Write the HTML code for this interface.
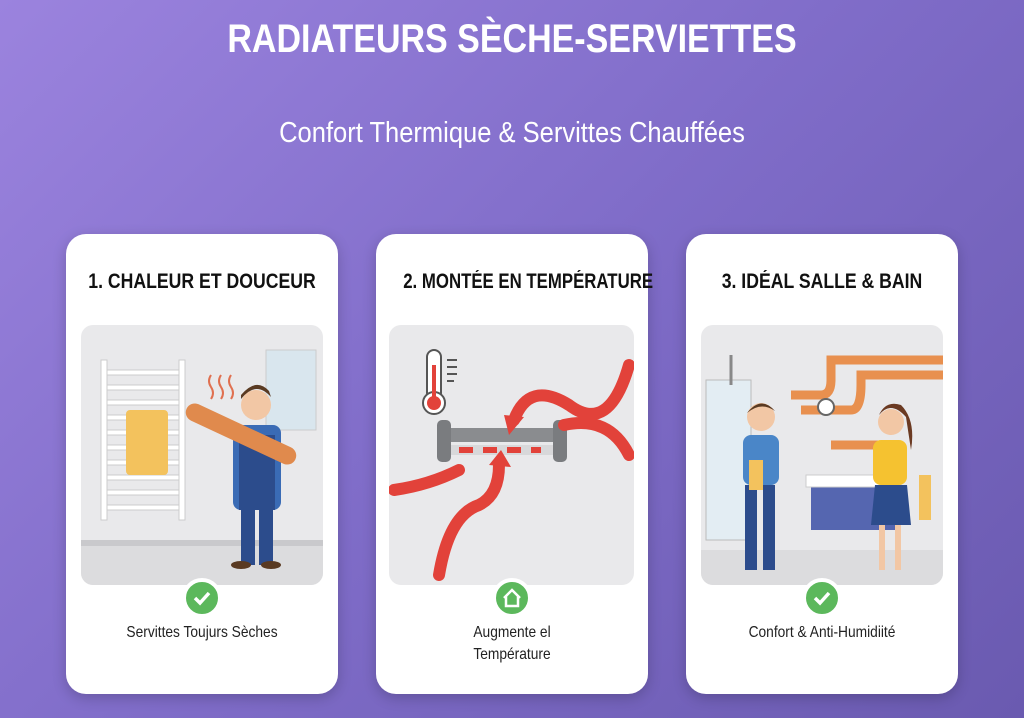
<!DOCTYPE html>
<html><head><meta charset="utf-8"><style>
body{margin:0;width:1024px;height:718px;overflow:hidden;background:linear-gradient(135deg,#9b83de 0%,#7f6cc8 50%,#6a5ab0 100%);font-family:"Liberation Sans",sans-serif;position:relative}
h1{position:absolute;top:17px;left:0;width:1024px;text-align:center;margin:0;color:#fff;font-size:40px;font-weight:bold;letter-spacing:0px;transform:scaleX(.85)}
.sub{position:absolute;top:117px;left:0;width:1024px;text-align:center;color:#fff;font-size:29px;transform:scaleX(.88)}
.card{position:absolute;top:234px;width:272px;height:460px;background:#fff;border-radius:20px;box-shadow:0 4px 14px rgba(0,0,0,.2)}
.card h2{position:absolute;top:36px;left:0;width:100%;text-align:center;margin:0;font-size:21px;font-weight:bold;color:#111;transform:scaleX(.84);white-space:nowrap}
.img{position:absolute;left:15px;top:91px;width:242px;height:260px;background:#e9e9eb;border-radius:12px;overflow:hidden}
.ic{position:absolute;left:120px;top:344px;width:32px;height:32px;border-radius:50%;background:#5cb85c;border:4px solid #fff;margin-left:-4px}
.t{position:absolute;top:388px;left:0;width:100%;text-align:center;font-size:16px;color:#222;transform:scaleX(.86);line-height:22px}
</style></head><body>
<h1>RADIATEURS SÈCHE-SERVIETTES</h1>
<div class="sub">Confort Thermique &amp; Servittes Chauffées</div>

<div class="card" style="left:66px"><h2>1. CHALEUR ET DOUCEUR</h2>
<div class="img"><svg width="242" height="260">
<rect x="0" y="220" width="242" height="40" fill="#dcdcde"/><rect x="0" y="215" width="242" height="6" fill="#c9c9cc"/>
<rect x="185" y="25" width="50" height="80" fill="#d9e6ee" stroke="#ccc"/>
<rect x="20" y="35" width="6" height="160" fill="#fff" stroke="#ccc"/><rect x="98" y="35" width="6" height="160" fill="#fff" stroke="#ccc"/>
<g fill="#fff" stroke="#ccc"><rect x="26" y="45" width="72" height="5"/><rect x="26" y="60" width="72" height="5"/><rect x="26" y="75" width="72" height="5"/><rect x="26" y="90" width="72" height="5"/><rect x="26" y="105" width="72" height="5"/><rect x="26" y="120" width="72" height="5"/><rect x="26" y="135" width="72" height="5"/><rect x="26" y="150" width="72" height="5"/><rect x="26" y="165" width="72" height="5"/><rect x="26" y="180" width="72" height="5"/></g>
<rect x="45" y="85" width="42" height="65" fill="#f3c25d" rx="4"/>
<rect x="160" y="180" width="14" height="60" fill="#2c4c8c"/><rect x="178" y="180" width="14" height="60" fill="#2c4c8c"/>
<rect x="152" y="100" width="48" height="85" fill="#3a6bb5" rx="8"/><rect x="158" y="110" width="36" height="75" fill="#2c4c8c"/>
<circle cx="175" cy="80" r="15" fill="#f2c7a5"/><path d="M160 74 Q175 55 190 72 L188 66 Q175 52 160 70Z" fill="#5a3a22"/>
<rect x="100" y="100" width="120" height="18" rx="9" fill="#e08a4d" transform="rotate(25 160 109)"/>
<path d="M130 50 q-4 6 0 12 q4 6 0 12 M140 50 q-4 6 0 12 q4 6 0 12 M150 50 q-4 6 0 12 q4 6 0 12" stroke="#e07050" fill="none" stroke-width="2"/>
<ellipse cx="160" cy="240" rx="10" ry="4" fill="#5a3a22"/><ellipse cx="190" cy="240" rx="10" ry="4" fill="#5a3a22"/>
</svg></div>
<div class="ic"><svg width="32" height="32"><path d="M9 16 l5 5 l9 -10" stroke="#fff" stroke-width="3.5" fill="none"/></svg></div>
<div class="t">Servittes Toujurs Sèches</div></div>

<div class="card" style="left:376px"><h2 style="transform:scaleX(.8)">2. MONTÉE EN TEMPÉRATURE</h2>
<div class="img" style="left:13px;width:245px"><svg width="245" height="260">
<rect x="38" y="25" width="14" height="50" rx="7" fill="#fff" stroke="#555" stroke-width="2"/><circle cx="45" cy="78" r="11" fill="#fff" stroke="#555" stroke-width="2"/><circle cx="45" cy="78" r="7" fill="#e2423a"/><rect x="43" y="40" width="4" height="38" fill="#e2423a"/>
<g stroke="#555" stroke-width="2"><line x1="58" y1="35" x2="68" y2="35"/><line x1="58" y1="42" x2="68" y2="42"/><line x1="58" y1="49" x2="68" y2="49"/><line x1="58" y1="56" x2="65" y2="56"/></g>
<rect x="58" y="103" width="110" height="14" fill="#8a8c8f"/><rect x="60" y="120" width="106" height="10" fill="#d8d8da"/>
<g fill="#e2423a"><rect x="70" y="122" width="14" height="6"/><rect x="94" y="122" width="14" height="6"/><rect x="118" y="122" width="14" height="6"/><rect x="142" y="122" width="10" height="6"/></g>
<rect x="48" y="95" width="14" height="42" rx="5" fill="#7a7c7f"/><rect x="164" y="95" width="14" height="42" rx="5" fill="#7a7c7f"/>
<g fill="none" stroke="#e2423a" stroke-width="12" stroke-linecap="round"><path d="M240 40 Q220 110 180 80 Q140 55 125 95"/><path d="M175 100 Q220 90 240 130"/><path d="M5 165 Q40 160 70 145"/><path d="M50 250 Q60 190 90 180 Q110 170 110 140"/></g>
<polygon points="115,90 135,92 120,110" fill="#e2423a"/><polygon points="100,140 112,125 122,142" fill="#e2423a"/>
</svg></div>
<div class="ic"><svg width="32" height="32"><path d="M8 16 L16 8 L24 16 M10 14 V24 H22 V14" stroke="#fff" stroke-width="2.5" fill="none"/></svg></div>
<div class="t">Augmente el<br>Température</div></div>

<div class="card" style="left:686px"><h2>3. IDÉAL SALLE &amp; BAIN</h2>
<div class="img"><svg width="242" height="260">
<rect x="0" y="225" width="242" height="35" fill="#dcdcde"/>
<g fill="none" stroke="#e8904f" stroke-width="9"><path d="M90 70 H120 Q130 70 130 55 V35 H242"/><path d="M100 85 H150 Q160 85 160 60 V50 H242"/><path d="M130 120 H180"/></g>
<rect x="5" y="55" width="45" height="160" fill="#e3edf3" stroke="#bbb"/><line x1="30" y1="30" x2="30" y2="60" stroke="#888" stroke-width="3"/>
<rect x="110" y="160" width="85" height="45" fill="#5566b0"/><rect x="105" y="150" width="95" height="12" fill="#fff" stroke="#ccc"/>
<circle cx="125" cy="82" r="8" fill="#fff" stroke="#666" stroke-width="2"/>
<rect x="42" y="110" width="36" height="50" rx="8" fill="#4a86c8"/><rect x="44" y="160" width="12" height="85" fill="#2c4c8c"/><rect x="62" y="160" width="12" height="85" fill="#2c4c8c"/><circle cx="60" cy="92" r="14" fill="#f2c7a5"/><path d="M46 88 Q60 70 74 86 Q60 76 46 88Z" fill="#5a3a22"/>
<rect x="48" y="135" width="14" height="30" fill="#f3c25d"/>
<rect x="172" y="115" width="34" height="45" rx="8" fill="#f5c230"/><path d="M174 160 H206 L210 200 H170Z" fill="#2c4c8c"/><rect x="178" y="200" width="6" height="45" fill="#f2c7a5"/><rect x="194" y="200" width="6" height="45" fill="#f2c7a5"/><circle cx="190" cy="97" r="13" fill="#f2c7a5"/><path d="M178 90 Q190 75 205 92 L210 125 Q215 95 200 80 Q185 75 178 90Z" fill="#6b3a22"/>
<rect x="218" y="150" width="12" height="45" fill="#f3c25d"/>
</svg></div>
<div class="ic"><svg width="32" height="32"><path d="M9 16 l5 5 l9 -10" stroke="#fff" stroke-width="3.5" fill="none"/></svg></div>
<div class="t">Confort &amp; Anti-Humidiité</div></div>
</body></html>
